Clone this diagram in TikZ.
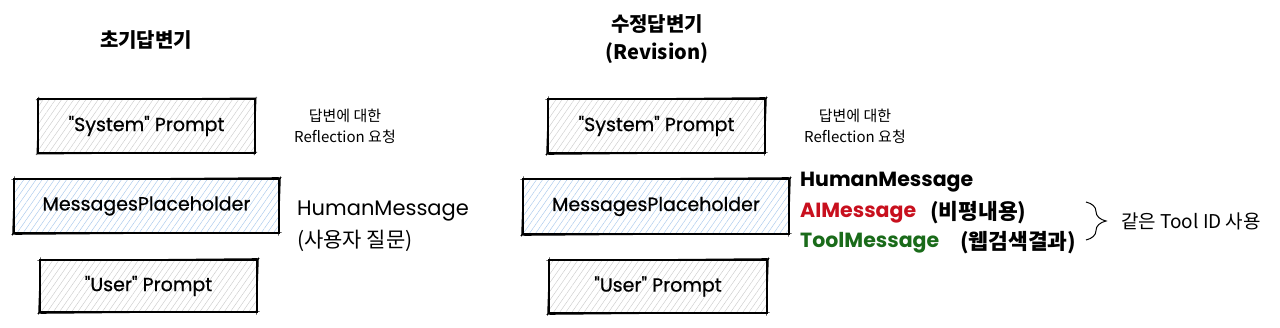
\documentclass[tikz,border=0pt]{standalone}
\usepackage{fontspec}
\setmainfont{Poppins}
\newfontfamily\kr{Noto Sans CJK KR}
\newfontfamily\pop{Poppins}
\newfontfamily\popm{Poppins}[FakeBold=0.7]
\usetikzlibrary{patterns.meta,decorations.pathreplacing}
\definecolor{msgred}{HTML}{C8101E}
\definecolor{msggreen}{HTML}{1A6B1A}
\definecolor{hatchgray}{HTML}{CCCCCC}
\definecolor{hatchblue}{HTML}{A8C8EC}
\tikzset{
  promptbox/.style={draw=black, line width=1.1pt, inner sep=0pt,
    pattern={Lines[angle=55,distance=5pt,line width=0.45pt]}, pattern color=hatchgray,
    font=\popm\fontsize{19}{22}\selectfont},
  placebox/.style={promptbox, pattern color=hatchblue},
  titletext/.style={font=\kr\bfseries\fontsize{20}{28}\selectfont, align=center},
  notetext/.style={font=\kr\fontsize{15}{21}\selectfont, align=center},
  handtext/.style={font=\pop\fontsize{21}{24}\selectfont, anchor=west, inner sep=0pt},
  boldhand/.style={handtext, font=\pop\bfseries\fontsize{20.5}{24}\selectfont},
  kortext/.style={font=\kr\fontsize{21}{24}\selectfont, anchor=west, inner sep=0pt},
  boldkor/.style={kortext, font=\kr\bfseries\fontsize{21.5}{24}\selectfont},
  sketchline/.style={line width=0.55pt, black}
}
\newcommand\sketchover[1]{%
  \draw[sketchline] ([shift={(-2,1)}]#1.north west) -- ([shift={(2,-1)}]#1.north east);
  \draw[sketchline] ([shift={(1,-2)}]#1.north east) -- ([shift={(-1,2)}]#1.south east);
  \draw[sketchline] ([shift={(2,-1)}]#1.south east) -- ([shift={(-2,1)}]#1.south west);
  \draw[sketchline] ([shift={(-1,2)}]#1.south west) -- ([shift={(1,-2)}]#1.north west);
}
\begin{document}
\begin{tikzpicture}[x=1pt,y=-1pt]
\useasboundingbox (0,0) rectangle (1280,327);
% titles
\node[titletext] (title1) at (146,40) {초기답변기};
\node[titletext] (title2) at (657,39) {수정답변기\\(Revision)};
% left column
\node[promptbox, minimum width=217pt, minimum height=54pt] (sys1) at (146.5,126) {"System" Prompt};
\node[placebox, minimum width=265pt, minimum height=54pt] (msg1) at (146.5,206) {MessagesPlaceholder};
\node[promptbox, minimum width=217pt, minimum height=52pt] (usr1) at (148.5,286) {"User" Prompt};
\sketchover{sys1}\sketchover{msg1}\sketchover{usr1}
\node[notetext] (note1) at (345,126) {답변에 대한\\Reflection 요청};
\node[handtext] (hum1) at (297,211) {HumanMessage};
\node[kortext] (q1) at (297,241) {(사용자 질문)};
% right column
\node[promptbox, minimum width=217pt, minimum height=54pt] (sys2) at (656.5,126) {"System" Prompt};
\node[placebox, minimum width=266pt, minimum height=55pt] (msg2) at (656,206.5) {MessagesPlaceholder};
\node[promptbox, minimum width=218pt, minimum height=53pt] (usr2) at (658,286.5) {"User" Prompt};
\sketchover{sys2}\sketchover{msg2}\sketchover{usr2}
\node[notetext] (note2) at (855,126) {답변에 대한\\Reflection 요청};
\node[boldhand] (hum2) at (800,182) {HumanMessage};
\node[boldhand, text=msgred] (ai2) at (800,213) {AIMessage};
\node[boldkor] (crit2) at (930,213) {(비평내용)};
\node[boldhand, text=msggreen] (tool2) at (800,243) {ToolMessage};
\node[boldkor] (web2) at (960,243) {(웹검색결과)};
\coordinate (bracetop) at (1086,202);
\coordinate (bracebot) at (1086,240);
\draw[line width=1pt, decorate, decoration={brace, amplitude=20pt}] (bracetop) -- (bracebot);
\node[kortext, font=\kr\fontsize{19}{22}\selectfont] (same) at (1121,221) {같은 Tool ID 사용};
\end{tikzpicture}
\end{document}
